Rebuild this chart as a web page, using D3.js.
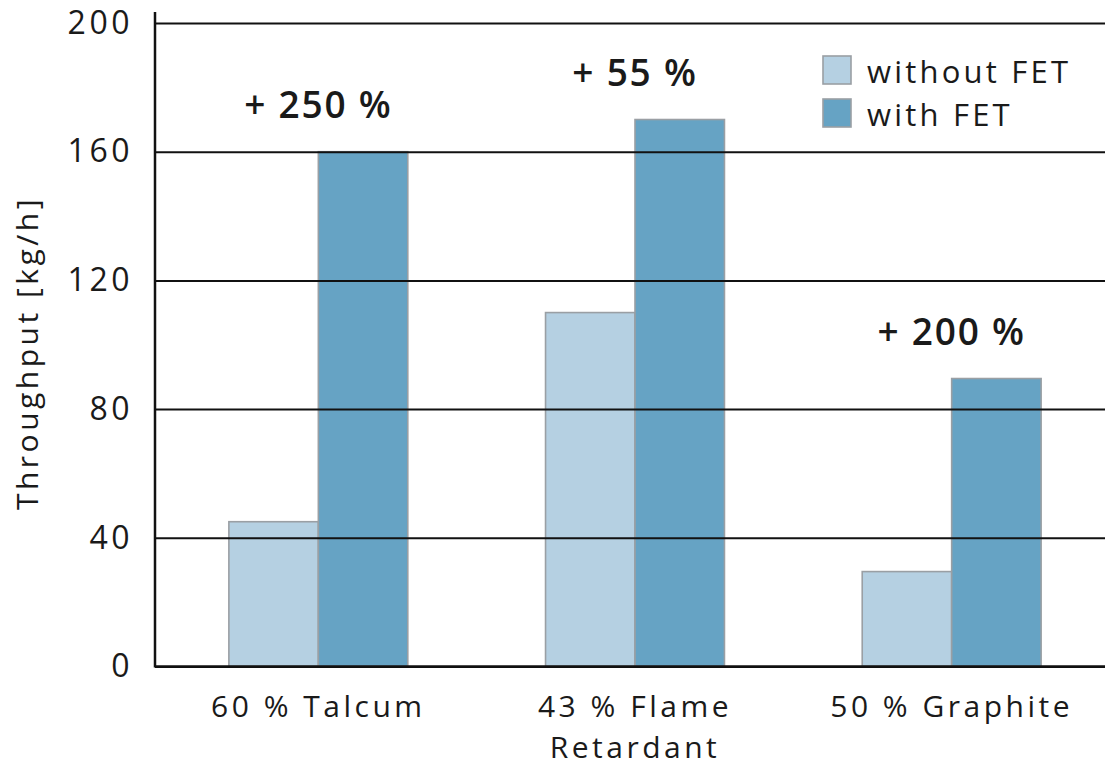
<!DOCTYPE html>
<html><head><meta charset="utf-8">
<script src="https://cdn.jsdelivr.net/npm/d3@7"></script>
<style>body{margin:0;background:#fff}svg{display:block}text{font-family:"Open Sans",sans-serif;fill:#1a1a1a}</style>
</head><body>
<script>
const categories = [["60 % Talcum"], ["43 % Flame", "Retardant"], ["50 % Graphite"]];
const seriesNames = ["without FET", "with FET"];
const withoutFET = [45, 110, 29.5];
const withFET = [160, 170, 89.5];
const gains = ["+ 250 %", "+ 55 %", "+ 200 %"];
const yTicks = [0, 40, 80, 120, 160, 200];
const colors = ["#b5d0e2", "#66a3c4"];

const W = 1107, H = 767;
const svg = d3.select("body").append("svg").attr("width", W).attr("height", H);
const x0 = 155, xEnd = 1105;
const y = d3.scaleLinear().domain([0, 200]).range([666.5, 23]);
const x = d3.scaleBand().domain(d3.range(categories.length)).range([160, 1110]).paddingInner(0.435).paddingOuter(0.2175);
const xs = d3.scaleBand().domain([0, 1]).range([0, x.bandwidth()]);

// bars
const data = categories.map((c, i) => [withoutFET[i], withFET[i]]);
const g = svg.append("g");
data.forEach((vals, i) => {
  vals.forEach((v, s) => {
    g.append("rect").attr("x", x(i) + xs(s)).attr("y", y(v)).attr("width", xs.bandwidth()).attr("height", y(0) - y(v))
      .attr("fill", colors[s]).attr("stroke", "#9a9fa4").attr("stroke-width", 1.6);
  });
  svg.append("text").attr("x", x(i) + x.bandwidth() / 2).attr("y", y(vals[1]) - 34)
    .attr("text-anchor", "middle").attr("font-size", 37).attr("font-weight", 600).attr("letter-spacing", 1.8).text(gains[i]);
});

// gridlines
const yAxis = d3.axisLeft(y).tickValues(yTicks).tickSize(-(xEnd - x0)).tickPadding(22);
const ag = svg.append("g").attr("transform", `translate(${x0},0)`).call(yAxis);
ag.select(".domain").remove();
ag.selectAll(".tick line").attr("stroke", "#111").attr("stroke-width", 2);
ag.selectAll(".tick text").attr("font-size", 32).attr("letter-spacing", 3.5).attr("fill", "#1a1a1a").attr("font-family", "Open Sans");
svg.append("line").attr("x1", x0).attr("x2", x0).attr("y1", 12).attr("y2", y(0) + 1).attr("stroke", "#111").attr("stroke-width", 2.5);
svg.append("line").attr("x1", x0).attr("x2", xEnd).attr("y1", y(0)).attr("y2", y(0)).attr("stroke", "#111").attr("stroke-width", 2.5);

// category labels
categories.forEach((lines, i) => {
  lines.forEach((t, k) => {
    svg.append("text").attr("x", x(i) + x.bandwidth() / 2).attr("y", 717 + k * 41)
      .attr("text-anchor", "middle").attr("font-size", 30).attr("letter-spacing", 3.5).text(t);
  });
});

// y title
svg.append("text").attr("transform", "translate(38,353) rotate(-90)").attr("text-anchor", "middle")
  .attr("font-size", 30).attr("letter-spacing", 3.5).text("Throughput [kg/h]");

// legend
seriesNames.forEach((n, s) => {
  svg.append("rect").attr("x", 823).attr("y", 56 + s * 43).attr("width", 28).attr("height", 28)
    .attr("fill", colors[s]).attr("stroke", "#9a9fa4").attr("stroke-width", 1.6);
  svg.append("text").attr("x", 867).attr("y", 83 + s * 43).attr("font-size", 31).attr("letter-spacing", 3.2).text(n);
});
</script>
</body></html>
